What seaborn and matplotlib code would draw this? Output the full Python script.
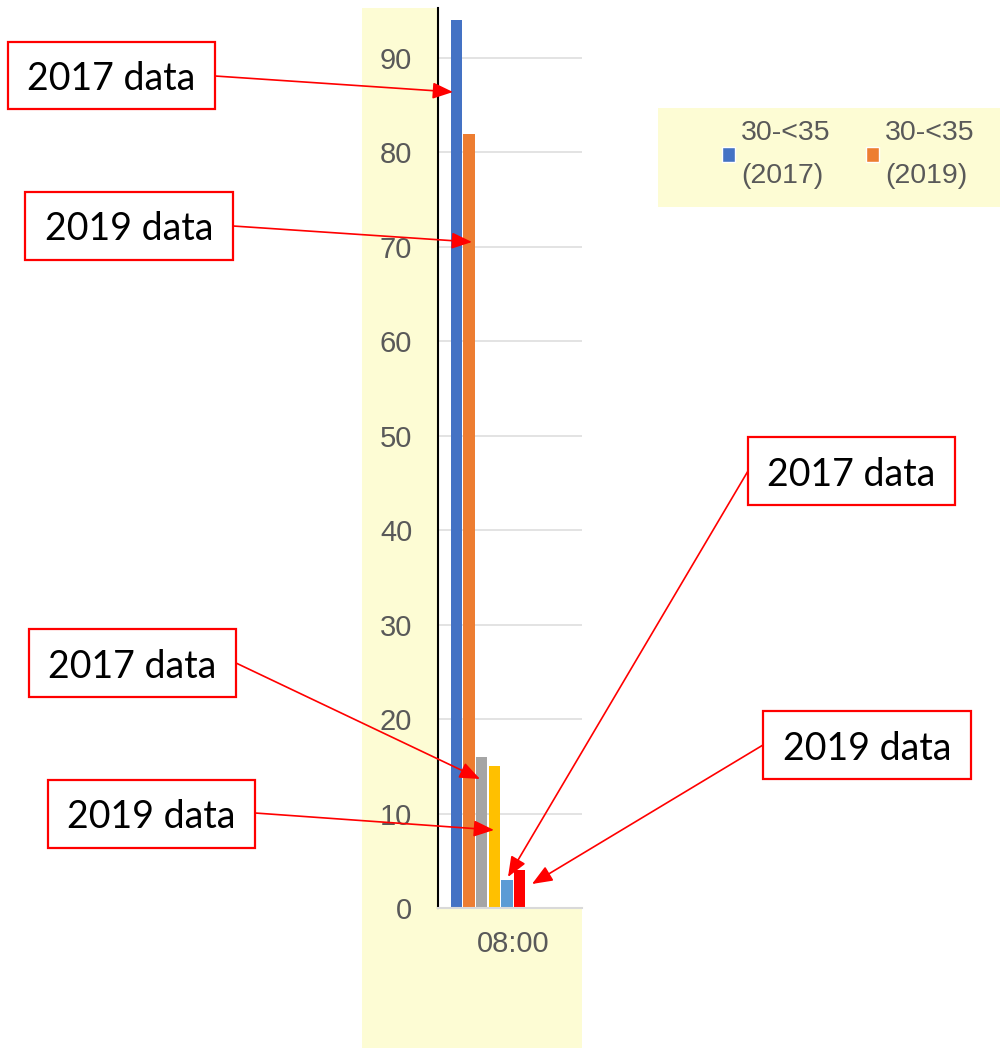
import matplotlib
matplotlib.use("Agg")
import matplotlib.pyplot as plt
from matplotlib.patches import Rectangle, Patch
import seaborn as sns
import pandas as pd

# ---- data ----
times = ["08:00"]
series = ["30-<35 (2017)", "30-<35 (2019)", "35-<40 (2017)", "35-<40 (2019)",
          "40-<45 (2017)", "40-<45 (2019)"]
values = [94, 82, 16, 15, 3, 4]
colors = ["#4472C4", "#ED7D31", "#A5A5A5", "#FFC000", "#5B9BD5", "#FF0000"]
legend_labels = ["30-<35\n(2017)", "30-<35\n(2019)"]
yticks = [0, 10, 20, 30, 40, 50, 60, 70, 80, 90]
notes = ["2017 data", "2019 data", "2017 data", "2017 data", "2019 data", "2019 data"]

df = pd.DataFrame({"time": times * len(series), "series": series, "value": values})

sns.set_theme(style="white")
plt.rcParams["font.family"] = ["Liberation Sans", "DejaVu Sans"]

W, H = 1001, 1048
fig = plt.figure(figsize=(W / 100, H / 100), dpi=100)
fig.patch.set_facecolor("white")


def fx(px):
    return px / W


def fy(py):
    return 1 - py / H


# yellow panel behind the chart
fig.add_artist(Rectangle((fx(362), fy(1048)), (582 - 362) / W, (1048 - 8) / H,
                         facecolor="#fdfcd4", edgecolor="none",
                         transform=fig.transFigure, zorder=-2))
# yellow legend panel
fig.add_artist(Rectangle((fx(658), fy(207)), (1000 - 658) / W, (207 - 108) / H,
                         facecolor="#fdfcd4", edgecolor="none",
                         transform=fig.transFigure, zorder=-2))

ax = fig.add_axes([fx(438), fy(908), (582 - 438) / W, (908 - 8) / H])
ax.set_facecolor("white")

sns.barplot(data=df, x="time", y="value", hue="series", hue_order=series,
            palette=colors, saturation=1, width=0.8, gap=0.1, linewidth=0,
            legend=False, ax=ax)

ax.set_ylim(0, 95.3)
ax.set_xlim(-0.526, 0.989)
ax.set_yticks(yticks)
ax.set_xticks([0.263], labels=times)
ax.set_xlabel("")
ax.set_ylabel("")
ax.yaxis.grid(True, color="#e3e3e3", linewidth=1.4)
ax.set_axisbelow(True)
for s in ["top", "right"]:
    ax.spines[s].set_visible(False)
ax.spines["left"].set_color("black")
ax.spines["left"].set_linewidth(1.5)
ax.spines["bottom"].set_color("#d9d9d9")
ax.spines["bottom"].set_linewidth(1.5)
ax.tick_params(axis="y", labelsize=21, labelcolor="#595959", length=0, pad=18.5)
ax.tick_params(axis="x", labelsize=21, labelcolor="#595959", length=0, pad=16)

# legend
handles = [Patch(facecolor=colors[0]), Patch(facecolor=colors[1])]
leg = fig.legend(handles=handles, labels=legend_labels, ncol=2, frameon=False,
                 prop={"size": 20.5}, handlelength=0.46, handleheight=0.46,
                 handletextpad=0.2, columnspacing=1.25, borderpad=0,
                 borderaxespad=0, loc="upper left",
                 bbox_to_anchor=(fx(722), fy(120)), labelcolor="#595959")
for t in leg.get_texts():
    t.set_linespacing(1.85)

# annotation boxes and arrows (pixel layout, top-left origin)
boxes = [(8, 42, 215, 109), (25, 192, 233, 260), (748, 437, 955, 505),
         (29, 629, 236, 697), (48, 780, 255, 848), (763, 711, 971, 779)]
tails = [(215, 76), (233, 226), (748, 471), (236, 663), (255, 813), (763, 745)]
tips = [(453, 92), (472, 242), (508, 877), (480, 779), (494, 830), (532, 884)]

for text, (x0, y0, x1, y1), tail, tip in zip(notes, boxes, tails, tips):
    fig.add_artist(Rectangle((fx(x0), fy(y1)), (x1 - x0) / W, (y1 - y0) / H,
                             facecolor="white", edgecolor="#ff0000",
                             linewidth=1.6, transform=fig.transFigure, zorder=5))
    fig.text(fx((x0 + x1) / 2), fy((y0 + y1) / 2), text, ha="center",
             va="center_baseline", fontsize=27, color="black",
             family=["Lato", "DejaVu Sans"], zorder=6)
    fig.add_artist(plt.Annotation(
        "", xy=(fx(tip[0]), fy(tip[1])), xytext=(fx(tail[0]), fy(tail[1])),
        xycoords="figure fraction", textcoords="figure fraction",
        arrowprops=dict(arrowstyle="-|>,head_length=0.62,head_width=0.25",
                        color="#ff0000", lw=1.2, shrinkA=0, shrinkB=0,
                        mutation_scale=20),
        zorder=7))

fig.savefig("out.png", dpi=100)
